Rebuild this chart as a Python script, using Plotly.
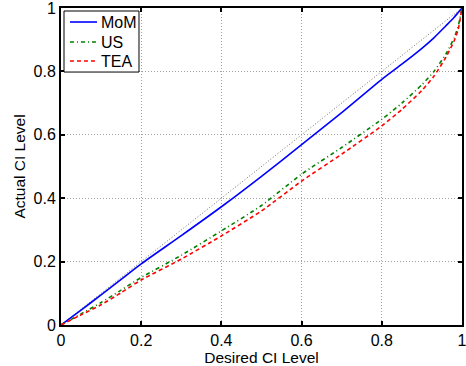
import plotly.graph_objects as go

# Desired CI level (x) and actual CI level for each method
x_mom = [0, 0.05, 0.1, 0.15, 0.2, 0.3, 0.4, 0.5, 0.6, 0.7, 0.8, 0.85, 0.9, 0.93, 0.96, 0.98, 0.99, 1.0]
y_mom = [0, 0.047, 0.095, 0.144, 0.193, 0.282, 0.373, 0.469, 0.569, 0.670, 0.775, 0.823, 0.873, 0.906, 0.944, 0.970, 0.985, 1.0]

x_us = [0, 0.05, 0.1, 0.15, 0.2, 0.3, 0.4, 0.5, 0.6, 0.7, 0.8, 0.85, 0.9, 0.93, 0.96, 0.98, 0.99, 1.0]
y_us = [0, 0.035, 0.071, 0.110, 0.150, 0.220, 0.297, 0.377, 0.476, 0.560, 0.649, 0.700, 0.758, 0.800, 0.855, 0.905, 0.940, 1.0]

x_tea = [0, 0.05, 0.1, 0.15, 0.2, 0.3, 0.4, 0.5, 0.6, 0.7, 0.8, 0.85, 0.9, 0.93, 0.96, 0.98, 0.99, 1.0]
y_tea = [0, 0.032, 0.064, 0.102, 0.142, 0.208, 0.281, 0.360, 0.454, 0.539, 0.628, 0.680, 0.740, 0.785, 0.845, 0.895, 0.930, 1.0]

diag = [0, 1]
ticks = [0, 0.2, 0.4, 0.6, 0.8, 1]
tick_text = ["0", "0.2", "0.4", "0.6", "0.8", "1"]
legend_names = ["MoM", "US", "TEA"]

font_family = "Liberation Sans, Arial, Helvetica, sans-serif"

styles = [
    dict(color="#0000FF", dash="solid"),
    dict(color="#008000", dash="4px,3px,1px,3px"),
    dict(color="#FF0000", dash="4px,3px"),
]
series = [(x_mom, y_mom), (x_us, y_us), (x_tea, y_tea)]

fig = go.Figure()
fig.add_trace(go.Scatter(x=diag, y=diag, mode="lines", showlegend=False,
                         line=dict(color="#707070", width=1, dash="1px,2px"), hoverinfo="skip"))
for (xs, ys), name, st in zip(series, legend_names, styles):
    fig.add_trace(go.Scatter(x=xs, y=ys, mode="lines", name=name, showlegend=False,
                             line=dict(color=st["color"], width=1.6, dash=st["dash"],
                                       shape="spline", smoothing=0.6)))

# Legend box drawn MATLAB-style (tight spacing)
fig.add_shape(type="rect", xref="paper", yref="paper", x0=0.0075, x1=0.1945, y0=0.798, y1=0.9905,
              line=dict(color="black", width=1), fillcolor="white", layer="above")
item_y = [0.9558, 0.8927, 0.8328]
for name, st, yy in zip(legend_names, styles, item_y):
    fig.add_shape(type="line", xref="paper", yref="paper", x0=0.0224, x1=0.0898, y0=yy, y1=yy,
                  line=dict(color=st["color"], width=1.6, dash=st["dash"]), layer="above")
    fig.add_annotation(xref="paper", yref="paper", x=0.0973, y=yy, text=name, showarrow=False,
                       xanchor="left", yanchor="middle", xshift=-1,
                       font=dict(size=16, color="black", family=font_family))

axis_common = dict(
    range=[0, 1], tickvals=ticks, ticktext=tick_text,
    showline=True, linecolor="black", linewidth=2, mirror="ticks",
    ticks="inside", ticklen=4, tickwidth=1.5, tickcolor="black",
    showgrid=True, gridcolor="#a0a0a0", gridwidth=1, griddash="1px,2px",
    zeroline=False, automargin=False, ticklabeloverflow="allow",
    tickfont=dict(size=16, color="black", family=font_family),
)

fig.update_layout(
    width=466, height=366,
    margin=dict(l=61, r=4, t=8, b=41),
    paper_bgcolor="white", plot_bgcolor="white",
    font=dict(family=font_family, color="black"),
    showlegend=False,
    xaxis=dict(**axis_common, title=dict(text="Desired CI Level", font=dict(size=15.5), standoff=0)),
    yaxis=dict(**axis_common, title=dict(text="Actual CI Level", font=dict(size=15.5), standoff=4)),
)

fig.write_html("out.html", config={"displayModeBar": False},
               post_script="document.body.style.margin='0';document.body.style.overflow='hidden';")
